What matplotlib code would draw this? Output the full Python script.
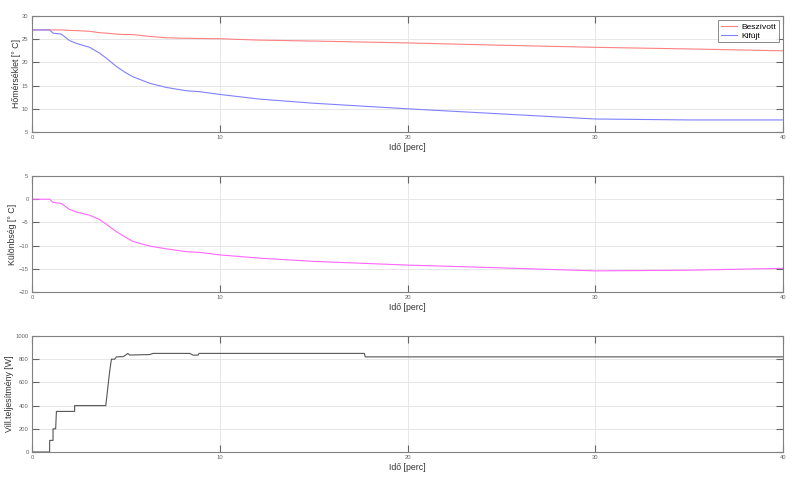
import numpy as np
import matplotlib.pyplot as plt

plt.rcParams['font.family'] = ['Liberation Sans', 'DejaVu Sans']

# idő [perc] és hőmérsékletek, leolvasva
t_temp = [0, 0.94, 1.12, 1.56, 2.0, 2.36, 3.07, 3.6, 3.96, 4.5, 4.94, 5.38, 6.27,
          7.16, 8.2, 8.9, 10, 12.1, 15, 20, 25, 30, 35, 40]
beszivott = [27.0, 27.0, 27.0, 27.0, 26.9, 26.85, 26.7, 26.4, 26.3, 26.1, 26.0, 26.0, 25.6,
             25.3, 25.2, 25.15, 25.1, 24.8, 24.6, 24.2, 23.7, 23.25, 22.9, 22.5]
kifujt = [27.0, 27.0, 26.3, 26.1, 24.7, 24.1, 23.25, 22.0, 20.9, 19.1, 17.9, 16.9, 15.5,
          14.6, 13.9, 13.7, 13.1, 12.1, 11.2, 10.0, 8.9, 7.8, 7.6, 7.6]
kulonbseg = np.array(kifujt) - np.array(beszivott)

# villamos teljesítmény [W]
t_pow = [0, 0.94, 0.94, 1.12, 1.12, 1.26, 1.3, 2.27, 2.27, 3.93, 4.14, 4.23, 4.4, 4.5,
         4.85, 5.0, 5.1, 5.2, 6.27, 6.45, 8.4, 8.58, 8.85, 8.9, 17.7, 17.75, 40]
power = [0, 0, 100, 100, 200, 200, 350, 350, 400, 400, 700, 800, 800, 820,
         822, 836, 850, 836, 840, 850, 850, 835, 835, 850, 850, 820, 820]

xticks = [0, 10, 20, 30, 40]

fig = plt.figure(figsize=(8, 4.79), dpi=100)
W, H = 800, 479
left, right = 32, 783
tops = [(16, 132), (176, 292), (336, 452)]

axes = []
for (ytop, ybot) in tops:
    ax = fig.add_axes([left / W, 1 - ybot / H, (right - left) / W, (ybot - ytop) / H])
    axes.append(ax)

def style(ax, ylabel):
    ax.set_xlim(0, 40)
    ax.set_xticks(xticks)
    ax.grid(True, color='#e3e3e3', linewidth=0.6)
    ax.set_axisbelow(True)
    ax.tick_params(direction='in', top=True, right=True, length=5, width=0.8,
                   labelsize=4.2, colors='#666666', pad=2.5)
    for s in ax.spines.values():
        s.set_color('#808080')
        s.set_linewidth(0.8)
    ax.set_xlabel('Idő [perc]', fontsize=6.3, color='#333333', labelpad=2)
    ax.set_ylabel(ylabel, fontsize=6.3, color='#333333', labelpad=1)

ax = axes[0]
ax.plot(t_temp, beszivott, color='#ff8080', linewidth=0.8, label='Beszívott')
ax.plot(t_temp, kifujt, color='#8080ff', linewidth=0.8, label='Kifújt')
ax.set_ylim(5, 30)
ax.set_yticks([5, 10, 15, 20, 25, 30])
style(ax, 'Hőmérséklet [° C]')
leg = ax.legend(loc='upper right', fontsize=6, frameon=True, fancybox=False,
                handlelength=2.0, handletextpad=0.5, borderpad=0.3,
                labelspacing=0.15, borderaxespad=0.5)
leg.get_frame().set_edgecolor('#555555')
leg.get_frame().set_linewidth(0.6)

ax = axes[1]
ax.plot(t_temp, kulonbseg, color='#ff66ff', linewidth=0.8)
ax.set_ylim(-20, 5)
ax.set_yticks([-20, -15, -10, -5, 0, 5])
style(ax, 'Különbség [° C]')

ax = axes[2]
ax.plot(t_pow, power, color='#555555', linewidth=0.8)
ax.set_ylim(0, 1000)
ax.set_yticks([0, 200, 400, 600, 800, 1000])
style(ax, 'Vill.teljesítmény [W]')

fig.savefig('out.png', dpi=100)
